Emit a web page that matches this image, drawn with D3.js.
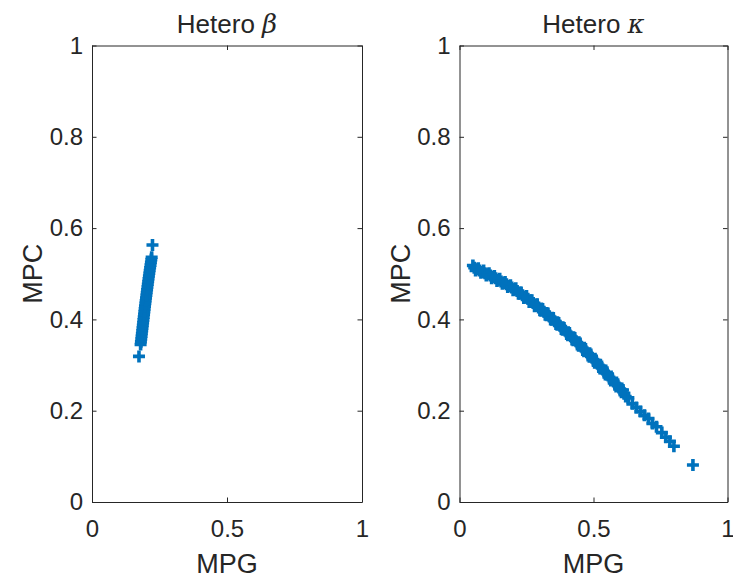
<!DOCTYPE html>
<html>
<head>
<meta charset="utf-8">
<script src="https://cdn.jsdelivr.net/npm/d3@7"></script>
<style>
  html, body { margin: 0; padding: 0; background: #fff; }
  svg { display: block; }
  text { font-family: "Liberation Sans", Arial, Helvetica, sans-serif; fill: #262626; }
</style>
</head>
<body>
<svg id="chart" width="733" height="581"></svg>
<script>
// Marginal propensity to consume (MPC) against marginal propensity to gamble (MPG)

// Panel 1: heterogeneous beta
const betaMPG = [0.174, 0.180, 0.1812, 0.1824, 0.1836, 0.1847, 0.1859, 0.1870, 0.1882, 0.1893,
  0.1905, 0.1916, 0.1928, 0.1939, 0.1951, 0.1962, 0.1976, 0.1988, 0.2001, 0.2014,
  0.2027, 0.2040, 0.2053, 0.2067, 0.2080, 0.2094, 0.2108, 0.2122, 0.2137, 0.2152,
  0.2167, 0.2182, 0.2197, 0.2210, 0.224];
const betaMPC = [0.319, 0.345, 0.351, 0.357, 0.363, 0.369, 0.375, 0.381, 0.387, 0.393,
  0.399, 0.405, 0.411, 0.417, 0.423, 0.429, 0.435, 0.441, 0.447, 0.453,
  0.459, 0.465, 0.471, 0.477, 0.483, 0.489, 0.495, 0.501, 0.507, 0.513,
  0.519, 0.525, 0.531, 0.536, 0.563];

// Panel 2: heterogeneous kappa
const kappaMPG = [0.05, 0.06, 0.07, 0.08, 0.09, 0.10, 0.11, 0.12, 0.13, 0.14,
  0.15, 0.16, 0.17, 0.18, 0.19, 0.20, 0.21, 0.22, 0.23, 0.24,
  0.25, 0.26, 0.27, 0.28, 0.29, 0.30, 0.31, 0.32, 0.33, 0.34,
  0.35, 0.36, 0.37, 0.38, 0.39, 0.40, 0.41, 0.42, 0.43, 0.44,
  0.45, 0.46, 0.47, 0.48, 0.49, 0.50, 0.51, 0.52, 0.53, 0.54,
  0.55, 0.56, 0.57, 0.58, 0.59, 0.60, 0.61, 0.62,
  0.055, 0.065, 0.075, 0.085, 0.095, 0.105, 0.115, 0.125, 0.135, 0.145,
  0.155, 0.165, 0.175, 0.185, 0.195, 0.205, 0.215, 0.225, 0.235, 0.245,
  0.255, 0.265, 0.275, 0.285, 0.295, 0.305, 0.315, 0.325, 0.335, 0.345,
  0.355, 0.365, 0.375, 0.385, 0.395, 0.405, 0.415, 0.425, 0.435, 0.445,
  0.455, 0.465, 0.475, 0.485, 0.495, 0.505, 0.515, 0.525, 0.535, 0.545,
  0.555, 0.565, 0.575, 0.585, 0.595, 0.605, 0.615,
  0.63, 0.645, 0.66, 0.675, 0.69, 0.705, 0.72, 0.735, 0.755, 0.77, 0.785, 0.80, 0.871];
const kappaMPC = [0.518, 0.507, 0.512, 0.502, 0.507, 0.496, 0.501, 0.490, 0.495, 0.484,
  0.489, 0.478, 0.482, 0.471, 0.475, 0.464, 0.468, 0.456, 0.459, 0.447,
  0.451, 0.438, 0.442, 0.429, 0.433, 0.420, 0.423, 0.410, 0.413, 0.400,
  0.403, 0.390, 0.392, 0.379, 0.381, 0.368, 0.370, 0.356, 0.359, 0.345,
  0.347, 0.333, 0.335, 0.321, 0.323, 0.309, 0.310, 0.296, 0.297, 0.283,
  0.284, 0.270, 0.271, 0.257, 0.258, 0.244, 0.2455, 0.231,
  0.513, 0.510, 0.507, 0.504, 0.501, 0.499, 0.496, 0.493, 0.490, 0.487,
  0.483, 0.480, 0.477, 0.473, 0.470, 0.466, 0.462, 0.458, 0.453, 0.449,
  0.445, 0.440, 0.436, 0.431, 0.426, 0.422, 0.417, 0.412, 0.407, 0.402,
  0.396, 0.391, 0.386, 0.380, 0.375, 0.369, 0.363, 0.358, 0.352, 0.346,
  0.340, 0.334, 0.328, 0.322, 0.316, 0.310, 0.303, 0.297, 0.290, 0.283,
  0.277, 0.270, 0.264, 0.258, 0.251, 0.245, 0.238,
  0.228, 0.215, 0.207, 0.198, 0.190, 0.183, 0.172, 0.165, 0.152, 0.142, 0.133, 0.122, 0.081];

const xTicks = [0, 0.5, 1];
const yTicks = [0, 0.2, 0.4, 0.6, 0.8, 1];

const panels = [
  { title: "Hetero ", greek: "\u03B2", mpg: betaMPG, mpc: betaMPC, left: 92, right: 362 },
  { title: "Hetero ", greek: "\u03BA", mpg: kappaMPG, mpc: kappaMPC, left: 459.5, right: 727.5 }
];

const plotTop = 45.5, plotBottom = 502;
const markerColor = "#0072BD";
const axisColor = "#262626";
const tickLen = 4.5;
const half = 6;   // half-width of the plus marker

const svg = d3.select("#chart");

panels.forEach(p => {
  const x = d3.scaleLinear().domain([0, 1]).range([p.left, p.right]);
  const y = d3.scaleLinear().domain([0, 1]).range([plotBottom, plotTop]);
  const g = svg.append("g");

  // data markers: "+" symbols
  const plus = `M${-half},0H${half}M0,${-half}V${half}`;
  g.append("g").selectAll("path")
    .data(d3.range(p.mpg.length))
    .join("path")
    .attr("d", plus)
    .attr("transform", i => `translate(${x(p.mpg[i])},${y(p.mpc[i])})`)
    .attr("fill", "none")
    .attr("stroke", markerColor)
    .attr("stroke-width", 3.6);

  // axes (ticks pointing inward, mirrored on top and right)
  const fmt = d => d3.format("~g")(d);
  const ax = g.append("g").attr("transform", `translate(0,${plotBottom})`)
    .call(d3.axisBottom(x).tickValues(xTicks).tickSizeInner(-tickLen).tickSizeOuter(0).tickPadding(18).tickFormat(fmt));
  const ay = g.append("g").attr("transform", `translate(${p.left},0)`)
    .call(d3.axisLeft(y).tickValues(yTicks).tickSizeInner(-tickLen).tickSizeOuter(0).tickPadding(9).tickFormat(fmt));
  const axT = g.append("g").attr("transform", `translate(0,${plotTop})`)
    .call(d3.axisTop(x).tickValues(xTicks).tickSizeInner(-tickLen).tickSizeOuter(0).tickFormat(""));
  const ayR = g.append("g").attr("transform", `translate(${p.right},0)`)
    .call(d3.axisRight(y).tickValues(yTicks).tickSizeInner(-tickLen).tickSizeOuter(0).tickFormat(""));

  [ax, ay, axT, ayR].forEach(a => {
    a.select(".domain").attr("stroke", axisColor).attr("stroke-width", 1);
    a.selectAll(".tick line").attr("stroke", axisColor).attr("stroke-width", 1);
    a.selectAll(".tick text").attr("fill", axisColor)
      .style("font-family", '"Liberation Sans", Arial, sans-serif').style("font-size", "24px");
  });
  ax.selectAll(".tick text").attr("dy", "0.71em");

  // axis labels
  g.append("text")
    .attr("x", (p.left + p.right) / 2).attr("y", 573)
    .attr("text-anchor", "middle").style("font-size", "27px")
    .text("MPG");
  g.append("text")
    .attr("transform", `translate(${p.left - 50},${(plotTop + plotBottom) / 2}) rotate(-90)`)
    .attr("text-anchor", "middle").style("font-size", "27px")
    .text("MPC");

  // title with italic Greek symbol
  const t = g.append("text")
    .attr("x", (p.left + p.right) / 2).attr("y", 33)
    .attr("text-anchor", "middle").style("font-size", "26px");
  t.append("tspan").text(p.title);
  t.append("tspan").style("font-style", "italic").style("font-family", '"DejaVu Serif", serif').text(p.greek);
});
</script>
</body>
</html>
